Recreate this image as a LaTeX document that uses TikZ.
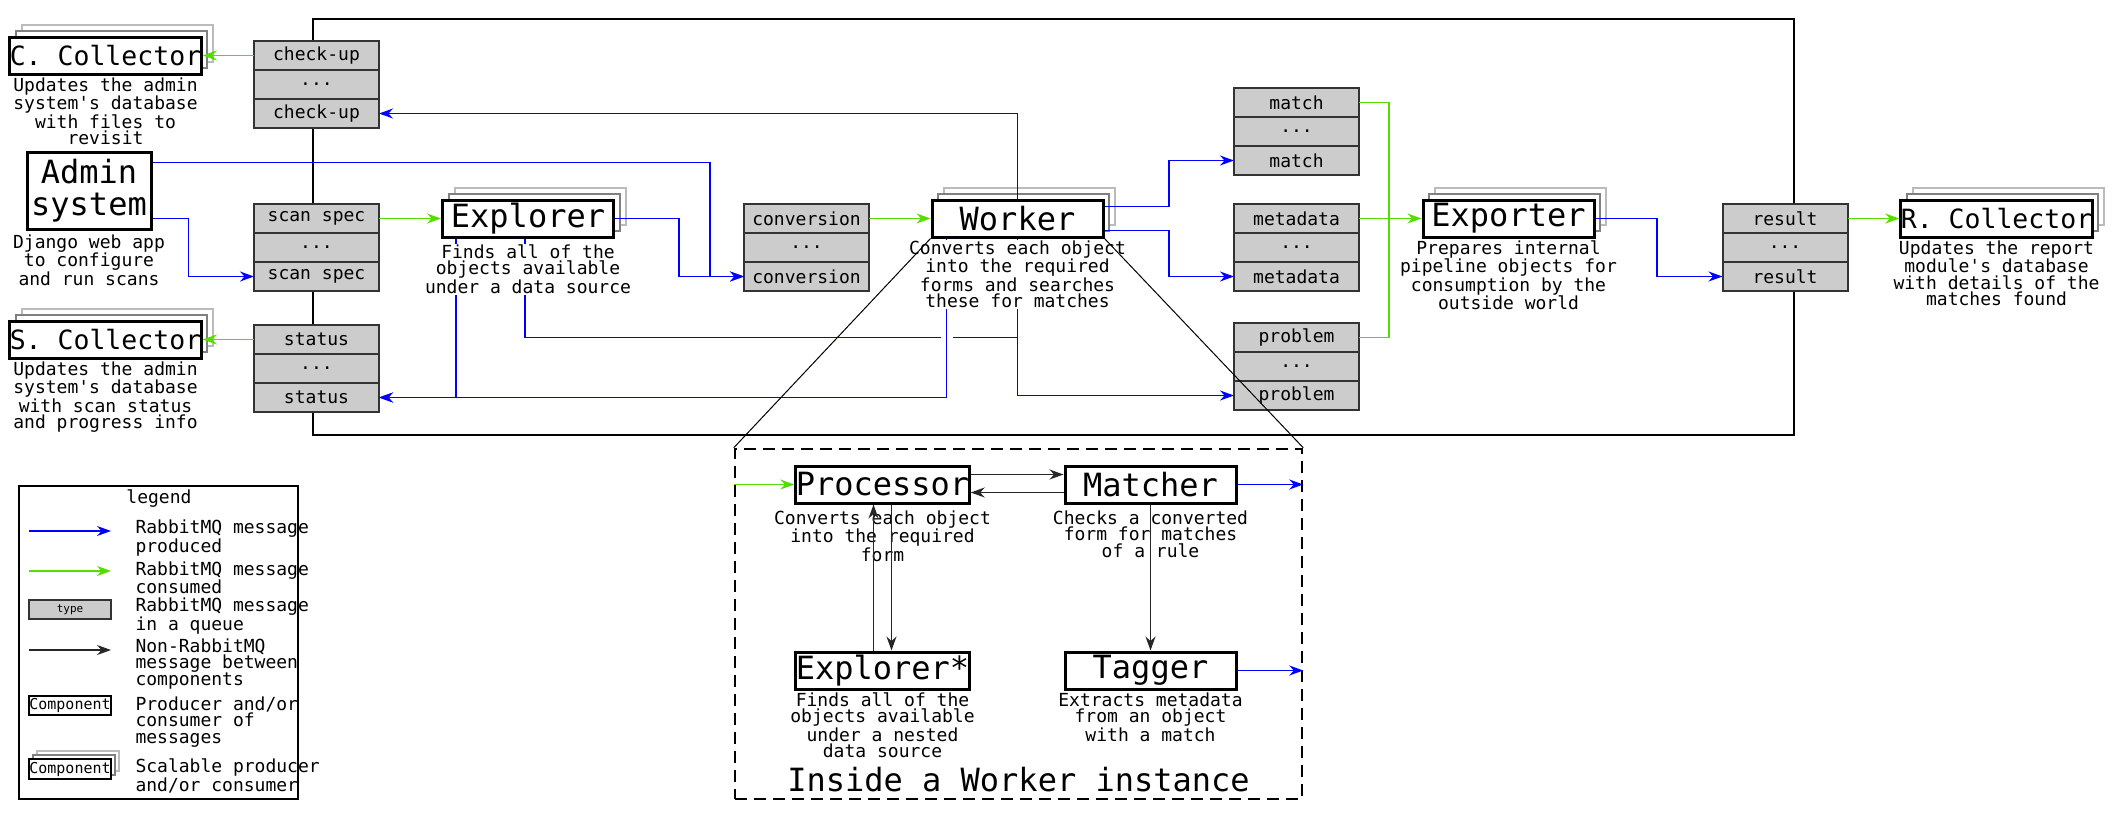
\documentclass[tikz,border=0pt]{standalone}
\usepackage{fontspec}
\setmainfont{DejaVu Sans Mono}[Ligatures=TeXOff]
\usepackage{tikz}
\usetikzlibrary{arrows.meta,positioning,shadows}
\definecolor{mqblue}{HTML}{0000FF}
\definecolor{mqgreen}{HTML}{55DD00}
\definecolor{cellgrey}{HTML}{CCCCCC}
\definecolor{cellline}{HTML}{333333}
\definecolor{shadowdark}{HTML}{808080}
\definecolor{shadowlight}{HTML}{BBBBBB}
\newcommand{\descfont}{\fontsize{18}{16.4}\selectfont}
\newcommand{\compfont}{\fontsize{32}{32}\selectfont}
\newcommand{\collfont}{\fontsize{26.5}{26.5}\selectfont}
\newcommand{\mqueue}[4]{%
  \node[cell] (#1-a) at (#2,#3) {#4};
  \node[cell,below=0pt of #1-a] (#1-b) {...};
  \node[cell,below=0pt of #1-b] (#1-c) {#4};}
\frenchspacing

\begin{document}
\begin{tikzpicture}[x=1pt,y=-1pt,
  comp/.style={draw,line width=3pt,fill=white,minimum width=171pt,minimum height=37pt,inner sep=0pt,font=\compfont},
  scal/.style={comp,copy shadow={shadow xshift=12pt,shadow yshift=12pt,draw=shadowlight,fill=white,line width=2pt},
    copy shadow={shadow xshift=6pt,shadow yshift=6pt,draw=shadowdark,fill=white,line width=2pt}},
  cell/.style={draw=cellline,fill=cellgrey,line width=2pt,minimum width=125pt,minimum height=29pt,inner sep=0pt,
    outer sep=0pt,font=\descfont},
  desc/.style={fill=white,align=center,inner sep=1pt,font=\descfont},
  prod/.style={-{Stealth[length=14pt,width=10pt]},line width=1.3pt,color=mqblue},
  prodline/.style={line width=1.3pt,color=mqblue},
  cons/.style={-{Stealth[length=14pt,width=10pt]},line width=1.3pt,color=mqgreen},
  consline/.style={line width=1.3pt,color=mqgreen},
  nonmq/.style={-{Stealth[length=14pt,width=10pt]},line width=1.3pt,color=black!85},
  hop/.style={preaction={draw=white,line width=12pt}}]
  \useasboundingbox (0,0) rectangle (2114,819);
  \node[draw,line width=1.3pt,minimum width=1481pt,minimum height=416pt,inner sep=0pt] (frame) at (1053.5,227) {};
  % queues
  \mqueue{checkup}{316.5}{55.5}{check-up}
  \mqueue{scan}{316.5}{218.5}{scan spec}
  \mqueue{status}{316.5}{339.5}{status}
  \mqueue{conv}{806.5}{218.5}{conversion}
  \mqueue{match}{1296.5}{102.5}{match}
  \mqueue{meta}{1296.5}{218.5}{metadata}
  \mqueue{prob}{1296.5}{337.5}{problem}
  \mqueue{result}{1785}{218.5}{result}
  % components
  \node[scal,font=\collfont] (ccol) at (105.5,55.5) {C. Collector};
  \node[scal,font=\collfont] (scol) at (105.5,339.5) {S. Collector};
  \node[comp,minimum width=124pt,minimum height=77pt,align=center,font=\fontsize{32}{31.5}\selectfont] (admin) at (89,190.5) {Admin\\system};
  \node[scal] (explorer) at (528,218.5) {Explorer};
  \node[scal] (worker) at (1017.5,218.5) {Worker};
  \node[scal] (exporter) at (1508.5,218.5) {Exporter};
  \node[scal,font=\collfont] (rcol) at (1996.5,218.5) {R. Collector};
  \coordinate (adminbendA) at (188.5,0);
  \coordinate (adminbendB) at (710,0);
  \coordinate (explbend) at (679,0);
  \coordinate (workbend) at (1169,0);
  \coordinate (expobend) at (1657,0);
  \coordinate (gj) at (1389,218.5);
  % consumed
  \draw[cons] (checkup-a) -- (ccol);
  \draw[cons] (status-a) -- (scol);
  \draw[cons] (scan-a) -- (explorer);
  \draw[cons] (conv-a) -- (worker);
  \draw[cons] (meta-a) -- (exporter);
  \draw[consline] (match-a.east) -| (gj);
  \draw[consline] (prob-a.east) -| (gj);
  \draw[cons] (result-a) -- (rcol);
  % produced
  \draw[prod] (worker.north) |- (checkup-c.east);
  \draw[prod] ([yshift=28pt]admin.east) -| (adminbendB |- conv-c) -- (conv-c.west);
  \draw[prod] ([yshift=-28pt]admin.east) -| (adminbendA |- scan-c) -- (scan-c.west);
  \draw[prod] (explorer.east) -| (explbend |- conv-c) -- (conv-c.west);
  \draw[prodline] ([xshift=-3pt]explorer.south) |- (worker.south |- prob-a);
  \draw[prodline,hop] ([xshift=-71pt]worker.south) -- ([xshift=-71pt]worker.south |- status-c);
  \draw[prod] ([xshift=-71pt]worker.south |- status-c) -- (status-c.east);
  \draw[prod] ([xshift=-72pt]explorer.south) |- (status-c.east);
  \draw[prod] (worker.south) |- (prob-c.west);
  \draw[prod] ([yshift=12pt]worker.east) -| (workbend |- match-c) -- (match-c.west);
  \draw[prod] ([yshift=-12pt]worker.east) -| (workbend |- meta-c) -- (meta-c.west);
  \draw[prod] (exporter.east) -| (expobend |- result-c) -- (result-c.west);
  % descriptions
  \node[desc,below=1pt of ccol] (ccol-d) {Updates the admin\\system's database\\with files to\\revisit};
  \node[desc,below=1pt of scol] (scol-d) {Updates the admin\\system's database\\with scan status\\and progress info};
  \node[desc,below=3pt of admin] (admin-d) {Django web app\\to configure\\and run scans};
  \node[desc,below=5pt of explorer] (explorer-d) {Finds all of the\\objects available\\under a data source};
  \node[desc,below=1pt of worker] (worker-d) {Converts each object\\into the required\\forms and searches\\these for matches};
  \node[desc,below=1pt of exporter] (exporter-d) {Prepares internal\\pipeline objects for\\consumption by the\\outside world};
  \node[desc,below=1pt of rcol] (rcol-d) {Updates the report\\module's database\\with details of the\\matches found};
  % inside a worker
  \node[draw,line width=2.5pt,dash pattern=on 12pt off 7pt,minimum width=567pt,minimum height=350pt,inner sep=0pt] (inside) at (1018.5,624) {};
  \draw[line width=1pt] (worker.south west) -- (inside.north west);
  \draw[line width=1pt] (worker.south east) -- (inside.north east);
  \node[comp] (processor) at (882.5,484.5) {Processor};
  \node[comp] (matcher) at (1150.5,484.5) {Matcher};
  \node[comp] (explorerstar) at (882.5,670.5) {Explorer*};
  \node[comp] (tagger) at (1150.5,670.5) {Tagger};
  \node[desc,below=5pt of processor] (processor-d) {Converts each object\\into the required\\form};
  \node[desc,below=5pt of matcher] (matcher-d) {Checks a converted\\form for matches\\of a rule};
  \node[desc,below=1pt of explorerstar] (explorerstar-d) {Finds all of the\\objects available\\under a nested\\data source};
  \node[desc,below=1pt of tagger] (tagger-d) {Extracts metadata\\from an object\\with a match};
  \node[font=\compfont] (inside-t) at (1018.5,780) {Inside a Worker instance};
  \draw[cons] (inside.west |- processor) -- (processor);
  \draw[nonmq] ([yshift=10pt]processor.east) -- ([yshift=10pt]matcher.west);
  \draw[nonmq] ([yshift=-8pt]matcher.west) -- ([yshift=-8pt]processor.east);
  \draw[prod] (matcher) -- (matcher -| inside.east);
  \draw[prod] (tagger) -- (tagger -| inside.east);
  \draw[nonmq] ([xshift=-9pt]explorerstar.north) -- ([xshift=-9pt]processor.south);
  \draw[nonmq] ([xshift=9pt]processor.south) -- ([xshift=9pt]explorerstar.north);
  \draw[nonmq] (matcher) -- (tagger);
  % legend
  \node[draw,line width=1.5pt,minimum width=279pt,minimum height=313pt,inner sep=0pt] (legend) at (158.5,642.5) {};
  \node[font=\descfont] (legend-t) at (159,499) {legend};
  \coordinate (lgA0) at (29,531);  \coordinate (lgA1) at (111,531);
  \coordinate (lgB0) at (29,571);  \coordinate (lgB1) at (111,571);
  \coordinate (lgC0) at (29,650);  \coordinate (lgC1) at (111,650);
  \draw[prod] (lgA0) -- (lgA1);
  \draw[cons] (lgB0) -- (lgB1);
  \node[cell,minimum width=82pt,minimum height=19pt,line width=1.5pt,font=\fontsize{11}{11}\selectfont] (lg-type) at (70,609.5) {type};
  \draw[nonmq] (lgC0) -- (lgC1);
  \node[comp,minimum width=82pt,minimum height=19pt,line width=2pt,font=\fontsize{15}{15}\selectfont] (lg-comp) at (70,705.5) {Component};
  \node[comp,minimum width=82pt,minimum height=20pt,line width=2pt,font=\fontsize{15}{15}\selectfont,
    copy shadow={shadow xshift=8pt,shadow yshift=8pt,draw=shadowlight,fill=white,line width=1.5pt},
    copy shadow={shadow xshift=4pt,shadow yshift=4pt,draw=shadowdark,fill=white,line width=1.5pt}] (lg-scal) at (70,769) {Component};
  \node[font=\descfont,align=left,anchor=west] (lg-a) at (132,538) {RabbitMQ message\\produced};
  \node[font=\descfont,align=left,anchor=west] (lg-b) at (132,578) {RabbitMQ message\\consumed};
  \node[font=\descfont,align=left,anchor=west] (lg-c) at (132,616) {RabbitMQ message\\in a queue};
  \node[font=\descfont,align=left,anchor=west] (lg-d) at (132,664) {Non-RabbitMQ\\message between\\components};
  \node[font=\descfont,align=left,anchor=west] (lg-e) at (132,722) {Producer and/or\\consumer of\\messages};
  \node[font=\descfont,align=left,anchor=west] (lg-f) at (132,776) {Scalable producer\\and/or consumer};
\end{tikzpicture}
\end{document}
